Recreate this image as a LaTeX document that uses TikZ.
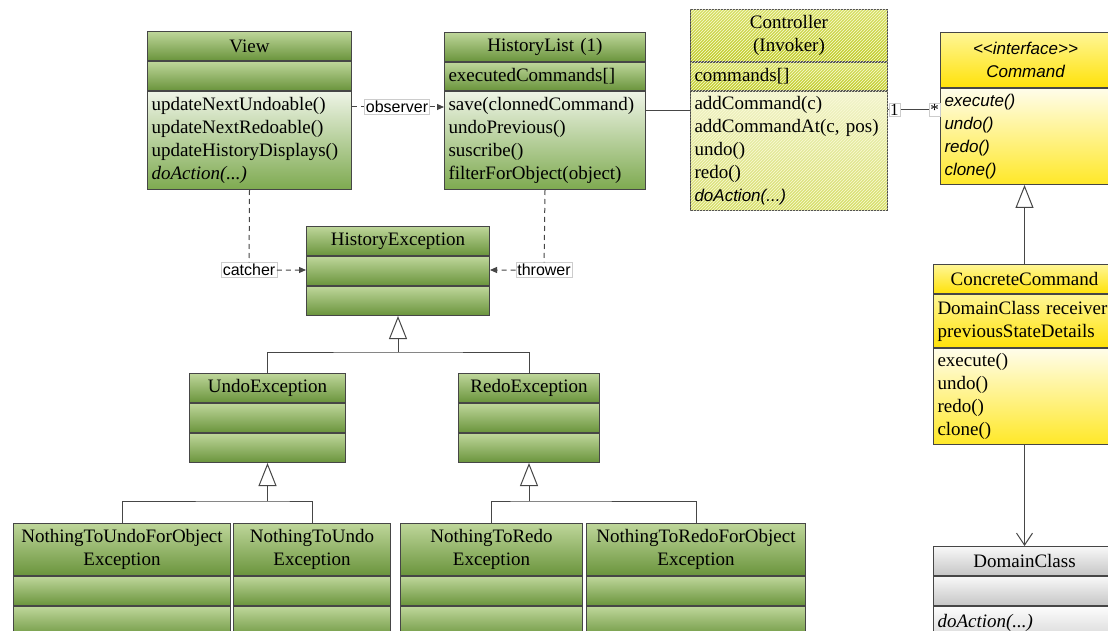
\documentclass[tikz,border=0pt]{standalone}
\usepackage{fontspec}
\setmainfont{Liberation Serif}
\newfontfamily\sansfont{Liberation Sans}
\usetikzlibrary{arrows.meta,patterns}

\definecolor{edge}{RGB}{70,70,70}
\definecolor{gtop}{RGB}{190,214,154}
\definecolor{gbot}{RGB}{106,148,60}
\definecolor{gmtop}{RGB}{238,244,230}
\definecolor{gmbot}{RGB}{126,170,80}
\definecolor{ltop}{RGB}{216,224,104}
\definecolor{lbot}{RGB}{192,204,40}
\definecolor{lmtop}{RGB}{242,244,208}
\definecolor{lmbot}{RGB}{214,222,104}
\definecolor{hatch}{RGB}{250,250,214}
\definecolor{ytop}{RGB}{255,246,150}
\definecolor{ybot}{RGB}{255,226,10}
\definecolor{ymtop}{RGB}{255,253,234}
\definecolor{ymbot}{RGB}{255,232,40}
\definecolor{stop}{RGB}{248,248,248}
\definecolor{sbot}{RGB}{198,198,198}
\definecolor{smtop}{RGB}{252,252,252}
\definecolor{smbot}{RGB}{216,216,216}

\begin{document}
\begin{tikzpicture}[x=1pt,y=-1pt,
    box/.style={rectangle,draw=edge,line width=1pt,anchor=north west,inner xsep=4pt,inner ysep=0pt,font=\fontsize{19}{23}\selectfont},
    wd/.code={\pgfmathsetlengthmacro\boxtw{#1-8}\edef\next{\noexpand\pgfkeysalso{minimum width=#1,text width=\boxtw}}\next},
    ht/.style={minimum height=#1},
    gt/.style={top color=gtop,bottom color=gbot},
    gm/.style={top color=gmtop,bottom color=gmbot},
    lt/.style={top color=ltop,bottom color=lbot,postaction={pattern=north east lines,pattern color=hatch}},
    lm/.style={top color=lmtop,bottom color=lmbot,postaction={pattern=north east lines,pattern color=hatch}},
    yt/.style={top color=ytop,bottom color=ybot},
    ym/.style={top color=ymtop,bottom color=ymbot},
    st/.style={top color=stop,bottom color=sbot},
    sm/.style={top color=smtop,bottom color=smbot},
    abstract/.style={font=\sansfont\itshape\fontsize{17}{23}\selectfont},
    lbl/.style={draw=black!20,fill=white,inner sep=1.5pt,font=\sansfont\fontsize{16}{16}\selectfont},
    mult/.style={draw=black!20,fill=white,inner sep=1pt,font=\fontsize{17}{17}\selectfont},
    conn/.style={draw=edge,line width=1pt},
    dep/.style={conn,dash pattern=on 5pt off 4pt,-{Triangle[length=7pt,width=6pt]}},
    inh/.style={conn,-{Triangle[open,length=23pt,width=18pt,fill=white]}}]
\path[use as bounding box,fill=white] (0,0) rectangle (1108,631);

\node[box,gt,wd=204,ht=29,align=center] (View) at (147,31) {View};
\node[box,gt,wd=204,ht=29] (View-a) at (View.south west) {};
\node[box,gm,wd=204,ht=98,align=left] (View-m) at (View-a.south west) {updateNextUndoable()\\updateNextRedoable()\\updateHistoryDisplays()\\\textit{doAction(...)}};

\node[box,gt,wd=201,ht=29,align=center] (HL) at (444,32) {HistoryList (1)};
\node[box,gt,wd=201,ht=28,align=left] (HL-a) at (HL.south west) {executedCommands[]};
\node[box,gm,wd=201,ht=98,align=left] (HL-m) at (HL-a.south west) {save(clonnedCommand)\\undoPrevious()\\suscribe()\\filterForObject(object)};

\node[box,lt,wd=197,ht=52,align=center] (Ctl) at (690,9) {Controller\\(Invoker)};
\node[box,lt,wd=197,ht=28,align=left] (Ctl-a) at (Ctl.south west) {commands[]};
\node[box,lm,wd=197,ht=119,align=left] (Ctl-m) at (Ctl-a.south west) {addCommand(c)\\addCommandAt(c, pos)\\undo()\\redo()\\{\sansfont\itshape\fontsize{17}{23}\selectfont doAction(...)}};

\node[box,yt,abstract,wd=170,ht=55,align=center] (Cmd) at (940,32) {<\kern0pt<interface>\kern0pt>\\Command};
\node[box,ym,abstract,wd=170,ht=96,align=left] (Cmd-m) at (Cmd.south west) {execute()\\undo()\\redo()\\clone()};

\node[box,yt,wd=182,ht=29,align=center] (CC) at (933,264) {ConcreteCommand};
\node[box,yt,wd=182,ht=53,align=left] (CC-a) at (CC.south west) {DomainClass receiver\\previousStateDetails};
\node[box,ym,wd=182,ht=96,align=left] (CC-m) at (CC-a.south west) {execute()\\undo()\\redo()\\clone()};

\node[box,st,wd=182,ht=29,align=center] (DC) at (933,546) {DomainClass};
\node[box,st,wd=182,ht=29] (DC-a) at (DC.south west) {};
\node[box,sm,wd=182,ht=32,align=left] (DC-m) at (DC-a.south west) {\textit{doAction(...)}};

\foreach \n/\x/\y/\w/\t in {HE/306/226/183/HistoryException,UE/189/373/156/UndoException,RE/458/373/141/RedoException}{
  \node[box,gt,wd=\w,ht=29,align=center] (\n) at (\x,\y) {\t};
  \node[box,gt,wd=\w,ht=29] (\n-a) at (\n.south west) {};
  \node[box,gt,wd=\w,ht=29] (\n-m) at (\n-a.south west) {};
}
\foreach \n/\x/\w/\t in {NUO/13/217/{NothingToUndoForObject\\Exception},NU/233/157/{NothingToUndo\\Exception},NR/400/182/{NothingToRedo\\Exception},NRO/586/219/{NothingToRedoForObject\\Exception}}{
  \node[box,gt,wd=\w,ht=52,align=center] (\n) at (\x,523) {\t};
  \node[box,gt,wd=\w,ht=29] (\n-a) at (\n.south west) {};
  \node[box,gt,wd=\w,ht=32] (\n-m) at (\n-a.south west) {};
}

\node[lbl] (obs) at (397,107) {observer};
\node[lbl] (catch) at (249,270) {catcher};
\node[lbl] (thr) at (544,270) {thrower};
\draw[dep] (View-m.east |- obs) -- (obs) -- (HL-m.west |- obs);
\draw[dep] (View-m.south) -- (catch) -- (catch -| HE-a.west);
\draw[dep] (HL-m.south) -- (thr) -- (thr -| HE-a.east);

\draw[conn] ([yshift=-20pt]HL-m.north east) -- ([yshift=-20pt]Ctl-m.north west);
\draw[conn,-{Straight Barb[length=6pt,width=9pt]}] ([yshift=-19pt]Ctl-m.north east) coordinate (cc) -- (cc -| Cmd-m.west);
\node[mult,anchor=west] (one) at ([xshift=1pt]cc) {1};
\node[mult,anchor=east] (many) at (cc -| Cmd-m.west) {*};

\draw[conn] (UE.north) |- ([yshift=-36pt]HE-m.south) -| (RE.north);
\draw[inh] ([yshift=-36pt]HE-m.south) -- (HE-m.south);
\draw[conn] (NUO.north) |- ([yshift=-38pt]UE-m.south) -| (NU.north);
\draw[inh] ([yshift=-38pt]UE-m.south) -- (UE-m.south);
\draw[conn] (NR.north) |- ([yshift=-38pt]RE-m.south) -| (NRO.north);
\draw[inh] ([yshift=-38pt]RE-m.south) -- (RE-m.south);

\draw[inh] (CC.north) -- (CC.north |- Cmd-m.south);
\draw[conn,-{Straight Barb[length=12pt,width=16pt]}] (CC-m.south) -- (DC.north);
\end{tikzpicture}
\end{document}
